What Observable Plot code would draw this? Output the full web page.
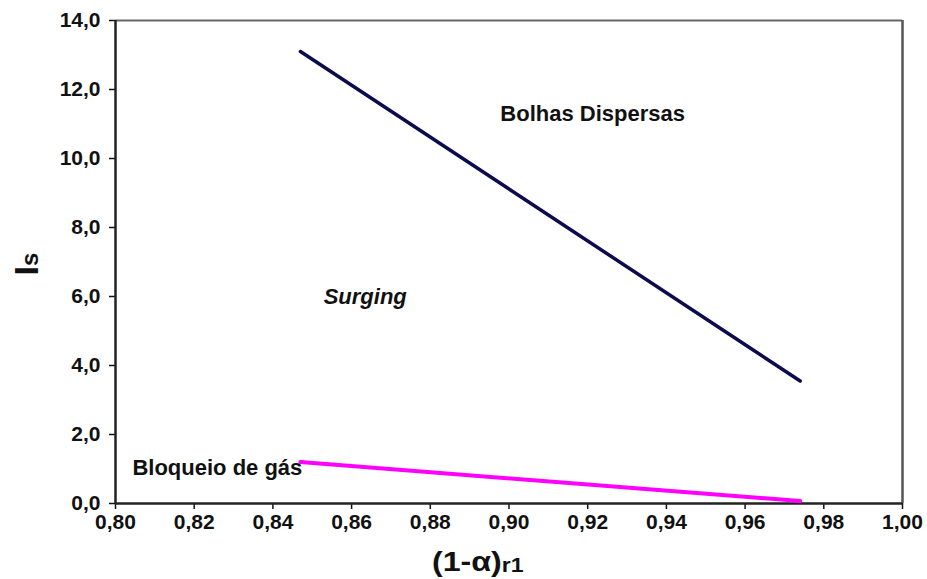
<!DOCTYPE html>
<html>
<head>
<meta charset="utf-8">
<script src="https://cdn.jsdelivr.net/npm/d3@7"></script>
<script src="https://cdn.jsdelivr.net/npm/@observablehq/plot@0.6"></script>
<style>
  html, body { margin: 0; padding: 0; background: #fff; }
  svg { font-family: "Liberation Sans", Arial, sans-serif; }
</style>
</head>
<body>
<div id="chart"></div>
<script>
// Upper boundary (Surging / Bolhas Dispersas)
const upperX = [0.847, 0.974];
const upperY = [13.1, 3.55];
// Lower boundary (Bloqueio de gás / Surging)
const lowerX = [0.847, 0.974];
const lowerY = [1.2, 0.07];
// Tick values
const xTicks = [0.80, 0.82, 0.84, 0.86, 0.88, 0.90, 0.92, 0.94, 0.96, 0.98, 1.00];
const yTicks = [0, 2, 4, 6, 8, 10, 12, 14];
// Region labels
const regionNames = ["Bolhas Dispersas", "Surging", "Bloqueio de gás"];
const regionX = [0.8978, 0.8529, 0.8043];
const regionY = [11.3, 6.0, 1.04];

const upper = upperX.map((x, i) => ({x, y: upperY[i]}));
const lower = lowerX.map((x, i) => ({x, y: lowerY[i]}));
const regions = regionNames.map((t, i) => ({t, x: regionX[i], y: regionY[i]}));

const fmtX = d => d.toFixed(2).replace(".", ",");
const fmtY = d => d.toFixed(1).replace(".", ",");

const plot = Plot.plot({
  width: 927,
  height: 579,
  marginLeft: 115,
  marginRight: 25,
  marginTop: 20,
  marginBottom: 76,
  style: {fontFamily: '"Liberation Sans", Arial, sans-serif', background: "#fff", fontSize: "21px", fontWeight: "bold"},
  x: {domain: [0.80, 1.00], ticks: xTicks, tickFormat: fmtX, label: null},
  y: {domain: [0, 14], ticks: yTicks, tickFormat: fmtY, label: null},
  marks: [
    Plot.axisX({ticks: xTicks, tickFormat: fmtX, tickSize: 6, tickPadding: 5, fontSize: 21, fontWeight: "bold", stroke: "#111", strokeWidth: 1.5, fill: "#111", label: null}),
    Plot.axisY({ticks: yTicks, tickFormat: fmtY, tickSize: 6, tickPadding: 9, fontSize: 21, fontWeight: "bold", stroke: "#111", strokeWidth: 1.5, fill: "#111", label: null}),
    Plot.ruleY([14], {stroke: "#666", strokeWidth: 2}),
    Plot.ruleX([1.0], {stroke: "#555", strokeWidth: 2.5}),
    Plot.ruleY([0], {stroke: "#222", strokeWidth: 2.5}),
    Plot.ruleX([0.80], {stroke: "#222", strokeWidth: 2.5}),
    Plot.line(upper, {x: "x", y: "y", stroke: "#0b0b4d", strokeWidth: 3.5}),
    Plot.line(lower, {x: "x", y: "y", stroke: "#ff00ff", strokeWidth: 4}),
    Plot.text(regions.filter(d => d.t !== "Surging"), {x: "x", y: "y", text: "t", textAnchor: "start", fontSize: 22, fontWeight: "bold", fill: "#111"}),
    Plot.text(regions.filter(d => d.t === "Surging"), {x: "x", y: "y", text: "t", textAnchor: "start", fontSize: 22, fontWeight: "bold", fontStyle: "italic", fill: "#111"})
  ]
});

const svg = d3.select(plot);
svg.selectAll('[aria-label$="tick label"]').attr("font-size", 21).attr("font-weight", "bold").attr("fill", "#111");

// y-axis title: I with smaller s
const yt = svg.append("text")
  .attr("transform", "translate(38,264) rotate(-90)")
  .attr("text-anchor", "middle")
  .attr("font-size", 34)
  .attr("font-weight", "bold")
  .attr("fill", "#111");
yt.append("tspan").text("I");
yt.append("tspan").attr("font-size", 24).text("s");
// x-axis title: (1-α) with subscript r1
const xt = svg.append("text")
  .attr("transform", "translate(432,571) scale(1.15,1)")
  .attr("text-anchor", "start")
  .attr("font-size", 28)
  .attr("font-weight", "bold")
  .attr("fill", "#111");
xt.append("tspan").text("(1-α)");
xt.append("tspan").attr("font-size", 20).attr("dy", 1).text("r1");

document.getElementById("chart").appendChild(plot);
</script>
</body>
</html>
